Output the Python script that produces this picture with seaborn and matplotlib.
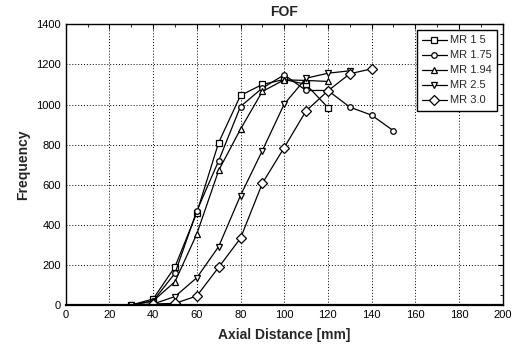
import matplotlib
matplotlib.use("Agg")
import matplotlib.pyplot as plt
from matplotlib.ticker import MultipleLocator
import seaborn as sns
import pandas as pd

sns.set_theme(style="white")
plt.rcParams["font.family"] = ["Liberation Sans", "DejaVu Sans"]

# Axial positions [mm] and frequency counts per mixture ratio
x_mr15 = [30, 40, 50, 60, 70, 80, 90, 100, 110, 120]
y_mr15 = [0, 30, 190, 460, 810, 1045, 1100, 1125, 1100, 985]

x_mr175 = [30, 40, 50, 60, 70, 80, 90, 100, 110, 120, 130, 140, 150]
y_mr175 = [0, 20, 158, 469, 719, 990, 1082, 1148, 1070, 1070, 987, 947, 869]

x_mr194 = [30, 40, 50, 60, 70, 80, 90, 100, 110, 120]
y_mr194 = [0, 20, 116, 354, 671, 877, 1065, 1123, 1120, 1115]

x_mr25 = [30, 40, 50, 60, 70, 80, 90, 100, 110, 120, 130]
y_mr25 = [0, 5, 42, 136, 291, 546, 770, 1002, 1131, 1156, 1168]

x_mr30 = [40, 50, 60, 70, 80, 90, 100, 110, 120, 130, 140]
y_mr30 = [5, 8, 45, 188, 333, 607, 785, 968, 1068, 1153, 1178]

labels = ["MR 1 5", "MR 1.75", "MR 1.94", "MR 2.5", "MR 3.0"]
markers = ["s", "o", "^", "v", "D"]
sizes = [3.8, 4.0, 4.6, 4.6, 4.6]

series = [(x_mr15, y_mr15), (x_mr175, y_mr175), (x_mr194, y_mr194),
          (x_mr25, y_mr25), (x_mr30, y_mr30)]

fig = plt.figure(figsize=(5.17, 3.54), dpi=100)
ax = fig.add_axes([65.7 / 517, 1 - 305 / 354, (502.7 - 65.7) / 517, (305 - 24.3) / 354])

for (xs, ys), lab, mk, ms in zip(series, labels, markers, sizes):
    df = pd.DataFrame({"x": xs, "y": ys})
    sns.lineplot(data=df, x="x", y="y", ax=ax, color="black", linewidth=0.9,
                 marker=mk, markersize=ms, markerfacecolor="white",
                 markeredgecolor="black", markeredgewidth=0.9, label=lab)

ax.set_xlim(0, 200)
ax.set_ylim(0, 1400)
ax.xaxis.set_major_locator(MultipleLocator(20))
ax.xaxis.set_minor_locator(MultipleLocator(10))
ax.yaxis.set_major_locator(MultipleLocator(200))
ax.yaxis.set_minor_locator(MultipleLocator(50))
ax.tick_params(which="both", direction="in", top=True, right=True,
               colors="black", labelsize=8)
ax.tick_params(which="major", length=3.5, width=0.8)
ax.tick_params(which="minor", length=2, width=0.6)
ax.grid(True, which="major", color="black", linestyle=(0, (1, 2)), linewidth=0.7)

for s in ax.spines.values():
    s.set_color("black")
    s.set_linewidth(1.0)
ax.spines["bottom"].set_linewidth(1.6)

ax.set_xlabel("Axial Distance [mm]", fontsize=10, fontweight="bold", labelpad=6)
ax.set_ylabel("Frequency", fontsize=10, fontweight="bold", labelpad=4)
ax.set_title("FOF", fontsize=10, fontweight="bold", pad=6)

leg = ax.legend(loc="upper right", frameon=True, fontsize=8, handlelength=2.2,
                borderpad=0.5, labelspacing=0.45, handletextpad=0.3,
                borderaxespad=0.5, fancybox=False)
leg.get_frame().set_edgecolor("black")
leg.get_frame().set_linewidth(1.0)
leg.get_frame().set_alpha(1)

fig.savefig("out.png", dpi=100)
